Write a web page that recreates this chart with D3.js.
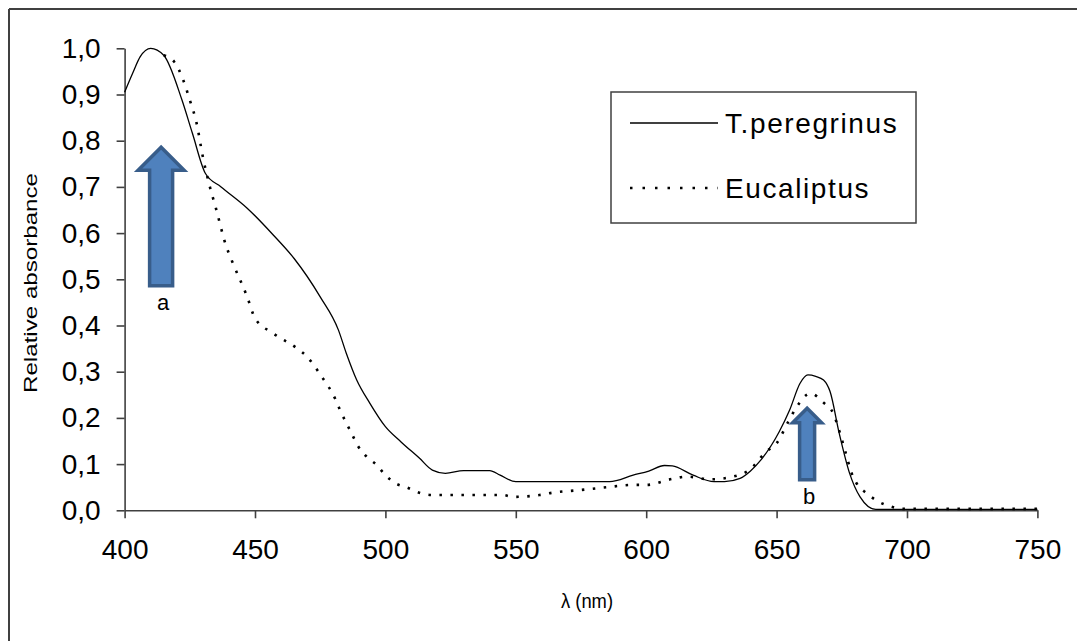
<!DOCTYPE html>
<html><head><meta charset="utf-8">
<script src="https://cdn.jsdelivr.net/npm/d3@7"></script>
<style>
html,body{margin:0;padding:0;background:#fff;}
svg{display:block;}
text{font-family:"Liberation Sans",Arial,sans-serif;fill:#000;}
</style></head>
<body>
<svg id="chart" width="1077" height="641"></svg>
<script>
// ---- data ----
const xTicks = [400, 450, 500, 550, 600, 650, 700, 750];
const yTicks = [0, 0.1, 0.2, 0.3, 0.4, 0.5, 0.6, 0.7, 0.8, 0.9, 1.0];

const tperWave = [400,403,406,410,415,422,426,431,437,447,457,465,475,482,485,489,494,500,506,513,518,523,530,540,544,550,586,595,601,607,610,618,626,630,636,640,644,651,655,659,662,665,668,670.5,674,678,682,688,750];
const tperVal  = [0.905,0.945,0.982,1.0,0.985,0.888,0.816,0.729,0.70,0.654,0.596,0.545,0.462,0.39,0.34,0.282,0.232,0.181,0.148,0.113,0.087,0.08,0.086,0.086,0.076,0.062,0.062,0.076,0.085,0.097,0.096,0.076,0.062,0.062,0.069,0.085,0.109,0.17,0.217,0.275,0.293,0.29,0.282,0.257,0.167,0.08,0.029,0.002,0.002];

const eucWave = [415,419,422.5,425,427.6,430,432.7,435,439,441,447,450,457,466,470,475.6,480.7,482.6,487,489.6,492.8,496.7,500,504,508,513,518,545,549,559,564,575,585,595,600,610,615.5,624.5,634.7,639.5,646,650,654.5,657.7,663,668,671.7,674.3,676.2,678.8,680.7,684.5,689,694,698.6,750];
const eucVal  = [0.985,0.971,0.931,0.888,0.838,0.765,0.70,0.654,0.571,0.542,0.462,0.416,0.383,0.351,0.332,0.289,0.242,0.217,0.167,0.138,0.116,0.098,0.076,0.058,0.05,0.038,0.033,0.033,0.029,0.033,0.038,0.044,0.05,0.055,0.055,0.068,0.073,0.067,0.075,0.087,0.127,0.145,0.192,0.224,0.253,0.233,0.21,0.167,0.13,0.08,0.058,0.037,0.019,0.008,0.003,0.003];

const seriesNames = ["T.peregrinus", "Eucaliptus"];
const arrowLabels = ["a", "b"];
const arrowWave   = [414, 661.7];
const arrowFrom   = [0.486, 0.066];
const arrowTo     = [0.786, 0.221];

// ---- layout ----
const svg = d3.select("#chart");
const x = d3.scaleLinear().domain([400, 750]).range([124.6, 1037.4]);
const y = d3.scaleLinear().domain([0, 1]).range([510.3, 48.3]);

// outer frame (top + left)
svg.append("line").attr("x1", 9).attr("y1", 9).attr("x2", 1077).attr("y2", 9)
  .attr("stroke", "#404040").attr("stroke-width", 2);
svg.append("line").attr("x1", 9).attr("y1", 9).attr("x2", 9).attr("y2", 641)
  .attr("stroke", "#404040").attr("stroke-width", 2);

// axes
const fmt = d => d3.format(".1f")(d).replace(".", ",");
const yAxis = svg.append("g").attr("transform", `translate(${x(400)},0)`)
  .call(d3.axisLeft(y).tickValues(yTicks).tickFormat(fmt).tickSize(8).tickSizeOuter(0).tickPadding(16));
const xAxis = svg.append("g").attr("transform", `translate(0,${y(0)})`)
  .call(d3.axisBottom(x).tickValues(xTicks).tickFormat(d3.format("d")).tickSize(8).tickSizeOuter(0).tickPadding(14));
[yAxis, xAxis].forEach(g => {
  g.select(".domain").attr("stroke", "#404040").attr("stroke-width", 1.6);
  g.selectAll(".tick line").attr("stroke", "#404040").attr("stroke-width", 1.6);
  g.selectAll(".tick text").style("font-family", '"Liberation Sans",Arial,sans-serif')
    .style("font-size", "28px").attr("fill", "#000");
});
xAxis.selectAll(".tick text").attr("dy", "0.95em");

// axis titles
svg.append("text").attr("transform", `translate(37,283) rotate(-90)`)
  .attr("text-anchor", "middle").style("font-size", "19px")
  .attr("textLength", 220).attr("lengthAdjust", "spacingAndGlyphs")
  .text("Relative absorbance");
svg.append("text").attr("x", 587).attr("y", 608)
  .attr("text-anchor", "middle").style("font-size", "20px")
  .attr("textLength", 52).attr("lengthAdjust", "spacingAndGlyphs")
  .text("λ (nm)");

// lines
const line = d3.line().x(d => x(d[0])).y(d => y(d[1])).curve(d3.curveMonotoneX);
const tper = tperWave.map((w, i) => [w, tperVal[i]]);
const euc = eucWave.map((w, i) => [w, eucVal[i]]);
svg.append("path").datum(tper).attr("d", line)
  .attr("fill", "none").attr("stroke", "#000").attr("stroke-width", 1.3);
svg.append("path").datum(euc).attr("d", line)
  .attr("fill", "none").attr("stroke", "#000").attr("stroke-width", 2.6)
  .attr("stroke-dasharray", "2.5,8.5");

// arrows
const arrowSpecs = [{sw: 23, hw: 46, hh: 23}, {sw: 15, hw: 29, hh: 14.5}];
arrowLabels.forEach((lab, i) => {
  const cx = x(arrowWave[i]);
  const yb = y(arrowFrom[i]);
  const yt = y(arrowTo[i]);
  const s = arrowSpecs[i];
  const path = d3.path();
  path.moveTo(cx - s.sw / 2, yb);
  path.lineTo(cx - s.sw / 2, yt + s.hh);
  path.lineTo(cx - s.hw / 2, yt + s.hh);
  path.lineTo(cx, yt);
  path.lineTo(cx + s.hw / 2, yt + s.hh);
  path.lineTo(cx + s.sw / 2, yt + s.hh);
  path.lineTo(cx + s.sw / 2, yb);
  path.closePath();
  svg.append("path").attr("d", path.toString())
    .attr("fill", "#4F81BD").attr("stroke", "#385D8A").attr("stroke-width", 3.5)
    .attr("stroke-linejoin", "miter");
  svg.append("text").attr("x", cx + 2).attr("y", yb + 24)
    .attr("text-anchor", "middle").style("font-size", "22px").text(lab);
});

// legend
const lg = svg.append("g");
lg.append("rect").attr("x", 611).attr("y", 92).attr("width", 305).attr("height", 131)
  .attr("fill", "#fff").attr("stroke", "#404040").attr("stroke-width", 1.5);
const legY = [123, 188];
seriesNames.forEach((name, i) => {
  lg.append("line").attr("x1", 630).attr("x2", 718).attr("y1", legY[i]).attr("y2", legY[i])
    .attr("stroke", "#000")
    .attr("stroke-width", i === 0 ? 1.3 : 2.6)
    .attr("stroke-dasharray", i === 0 ? null : "2.5,10");
  lg.append("text").attr("x", 725).attr("y", legY[i] + 10)
    .style("font-size", "28px").style("letter-spacing", "1.6px").text(name);
});
</script>
</body></html>
